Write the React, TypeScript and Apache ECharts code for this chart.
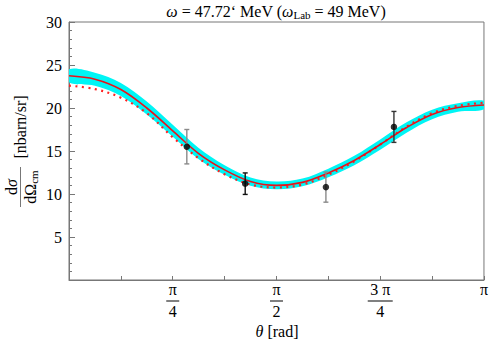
import React, { useEffect, useRef } from "react";
import * as echarts from "echarts";

// sample grid: k * pi/16, k = 0..16
const sampleSteps = [0, 1, 2, 3, 4, 5, 6, 7, 8, 9, 10, 11, 12, 13, 14, 15, 16];
const solidCurve = [23.75, 23.35, 22.15, 20.0, 17.35, 14.7, 12.8, 11.45, 11.0, 11.35, 12.45, 13.9, 15.75, 17.7, 19.25, 20.05, 20.35];
const dottedCurve = [22.6, 22.2, 21.2, 19.4, 16.6, 14.15, 12.3, 11.1, 10.75, 11.1, 12.25, 13.8, 15.75, 17.8, 19.4, 20.25, 20.6];
const bandUpper = [24.5, 24.1, 22.9, 20.75, 18.05, 15.35, 13.35, 11.93, 11.45, 11.8, 12.95, 14.45, 16.35, 18.3, 19.8, 20.55, 20.85];
const bandLower = [23.0, 22.6, 21.4, 19.25, 16.65, 14.05, 12.25, 10.97, 10.55, 10.9, 11.95, 13.35, 15.15, 17.1, 18.7, 19.55, 19.85];

const dataTheta = [0.892, 1.334, 1.945, 2.46];
const dataSigma = [15.5, 11.2, 10.8, 17.8];
const dataError = [2.0, 1.25, 1.75, 1.8];
const errColors = ["#8a8a8a", "#111111", "#8a8a8a", "#333333"];

const xTickLabels = [
  { at: 1, num: "π", den: "4" },
  { at: 2, num: "π", den: "2" },
  { at: 3, num: "3 π", den: "4" },
  { at: 4, num: "π", den: "" },
];
const yTickValues = [5, 10, 15, 20, 25, 30];

const FONT = "Liberation Serif";

export default function App() {
  const ref = useRef<HTMLDivElement>(null);
  useEffect(() => {
    if (!ref.current) return;
    const chart = echarts.init(ref.current, undefined, { renderer: "svg" });
    const thetas = sampleSteps.map((k) => (Math.PI * k) / 16);
    const pair = (arr: number[]) => thetas.map((t, i) => [t, arr[i]]);

    const option: any = {
      animation: false,
      textStyle: { fontFamily: FONT },
      grid: { left: 69, right: 7, top: 22, bottom: 60, show: true, borderColor: "#777", borderWidth: 1, backgroundColor: "transparent" },
      xAxis: {
        type: "value",
        min: 0,
        max: Math.PI,
        interval: Math.PI / 4,
        axisLine: { show: true, lineStyle: { color: "#777", width: 1 } },
        axisTick: { show: true, inside: true, length: 4, lineStyle: { color: "#777" } },
        minorTick: { show: true, splitNumber: 2, length: 4, lineStyle: { color: "#777" } },
        splitLine: { show: false },
        axisLabel: {
          margin: 1,
          color: "#000",
          fontFamily: FONT,
          fontSize: 16,
          showMinLabel: false,
          formatter: (v: number) => {
            const q = Math.round(v / (Math.PI / 4));
            if (Math.abs(v - (q * Math.PI) / 4) > 1e-6) return "";
            const lab = xTickLabels.find((l) => l.at === q);
            if (!lab) return "";
            if (!lab.den) return "{n|" + lab.num + "}";
            return "{n|" + lab.num + "}\n{" + (lab.num.length > 1 ? "barw" : "bar") + "|}\n{d|" + lab.den + "}";
          },
          rich: {
            n: { fontFamily: FONT, fontSize: 16, lineHeight: 17, color: "#000" },
            d: { fontFamily: FONT, fontSize: 16, lineHeight: 14, color: "#000" },
            bar: { width: 13, height: 1, lineHeight: 6, backgroundColor: "#000" },
            barw: { width: 25, height: 1, lineHeight: 6, backgroundColor: "#000" },
          },
        },
      },
      yAxis: {
        type: "value",
        min: 0,
        max: 30,
        interval: 5,
        axisLine: { show: true, lineStyle: { color: "#777", width: 1 } },
        axisTick: { show: true, inside: true, length: 6, lineStyle: { color: "#777" } },
        minorTick: { show: true, splitNumber: 5, length: 3, lineStyle: { color: "#777" } },
        splitLine: { show: false },
        axisLabel: {
          margin: 7,
          color: "#000",
          fontFamily: FONT,
          fontSize: 16,
          formatter: (v: number) => (yTickValues.indexOf(v) >= 0 ? String(v) : ""),
        },
      },
      series: [
        {
          type: "custom",
          data: [[0, 0]],
          clip: true,
          z: 1,
          renderItem: (params: any, api: any) => {
            const up = thetas.map((t, i) => api.coord([t, bandUpper[i]]));
            const lo = thetas.map((t, i) => api.coord([t, bandLower[i]])).reverse();
            return {
              type: "polygon",
              shape: { points: up.concat(lo), smooth: 0.35 },
              style: { fill: "#00f5f5", stroke: "none" },
            };
          },
        },
        {
          type: "line",
          data: pair(dottedCurve),
          smooth: 0.35,
          symbol: "none",
          lineStyle: { color: "#ff2020", width: 2.2, type: [2, 4.5] },
          z: 2,
        },
        {
          type: "line",
          data: pair(solidCurve),
          smooth: 0.35,
          symbol: "none",
          lineStyle: { color: "#e8141c", width: 1.6 },
          z: 3,
        },
        {
          type: "custom",
          data: dataTheta.map((t, i) => [t, dataSigma[i], dataError[i]]),
          z: 4,
          renderItem: (params: any, api: any) => {
            const x = api.value(0);
            const y = api.value(1);
            const e = api.value(2);
            const top = api.coord([x, y + e]);
            const bot = api.coord([x, y - e]);
            const c = errColors[params.dataIndex];
            const s = { stroke: c, lineWidth: 1.4 };
            return {
              type: "group",
              children: [
                { type: "line", shape: { x1: top[0], y1: top[1], x2: bot[0], y2: bot[1] }, style: s },
                { type: "line", shape: { x1: top[0] - 2.5, y1: top[1], x2: top[0] + 2.5, y2: top[1] }, style: s },
                { type: "line", shape: { x1: bot[0] - 2.5, y1: bot[1], x2: bot[0] + 2.5, y2: bot[1] }, style: s },
              ],
            };
          },
        },
        {
          type: "scatter",
          data: dataTheta.map((t, i) => [t, dataSigma[i]]),
          symbol: "circle",
          symbolSize: 6.5,
          itemStyle: { color: "#000" },
          z: 5,
        },
      ],
      graphic: [
        {
          type: "text",
          x: 276,
          y: 11,
          style: {
            text: "{i|ω} = 47.72‘ MeV ({i|ω}{s|Lab} = 49 MeV)",
            fontFamily: FONT,
            fontSize: 16,
            fill: "#000",
            align: "center",
            verticalAlign: "middle",
            rich: {
              i: { fontFamily: FONT, fontSize: 16, fontStyle: "italic", fill: "#000" },
              s: { fontFamily: FONT, fontSize: 11, padding: [7, 0, 0, 0], fill: "#000" },
            },
          },
        },
        {
          type: "text",
          x: 277,
          y: 331,
          style: {
            text: "{i|θ} [rad]",
            fontFamily: FONT,
            fontSize: 16,
            lineHeight: 16,
            fill: "#000",
            align: "center",
            verticalAlign: "middle",
            rich: { i: { fontFamily: FONT, fontSize: 16, lineHeight: 16, fontStyle: "italic", fill: "#000" } },
          },
        },
        {
          type: "text",
          x: 20,
          y: 127,
          rotation: Math.PI / 2,
          style: {
            text: "[nbarn/sr]",
            fontFamily: FONT,
            fontSize: 16,
            fill: "#000",
            align: "center",
            verticalAlign: "middle",
          },
        },
        {
          type: "text",
          x: 11,
          y: 187,
          rotation: Math.PI / 2,
          style: {
            text: "d{i|σ}",
            fontFamily: FONT,
            fontSize: 16,
            fill: "#000",
            align: "center",
            verticalAlign: "middle",
            rich: { i: { fontFamily: FONT, fontSize: 16, fontStyle: "italic", fill: "#000" } },
          },
        },
        {
          type: "line",
          shape: { x1: 20.5, y1: 167, x2: 20.5, y2: 207 },
          style: { stroke: "#777", lineWidth: 1 },
        },
        {
          type: "text",
          x: 30,
          y: 187,
          rotation: Math.PI / 2,
          style: {
            text: "dΩ{s|cm}",
            fontFamily: FONT,
            fontSize: 16,
            fill: "#000",
            align: "center",
            verticalAlign: "middle",
            rich: { s: { fontFamily: FONT, fontSize: 11, padding: [7, 0, 0, 0], fill: "#000" } },
          },
        },
      ],
    };
    chart.setOption(option);
    return () => chart.dispose();
  }, []);
  return (
    <div
      ref={ref}
      style={{ position: "fixed", left: 0, top: 0, width: 491, height: 340, background: "#fff" }}
    />
  );
}
